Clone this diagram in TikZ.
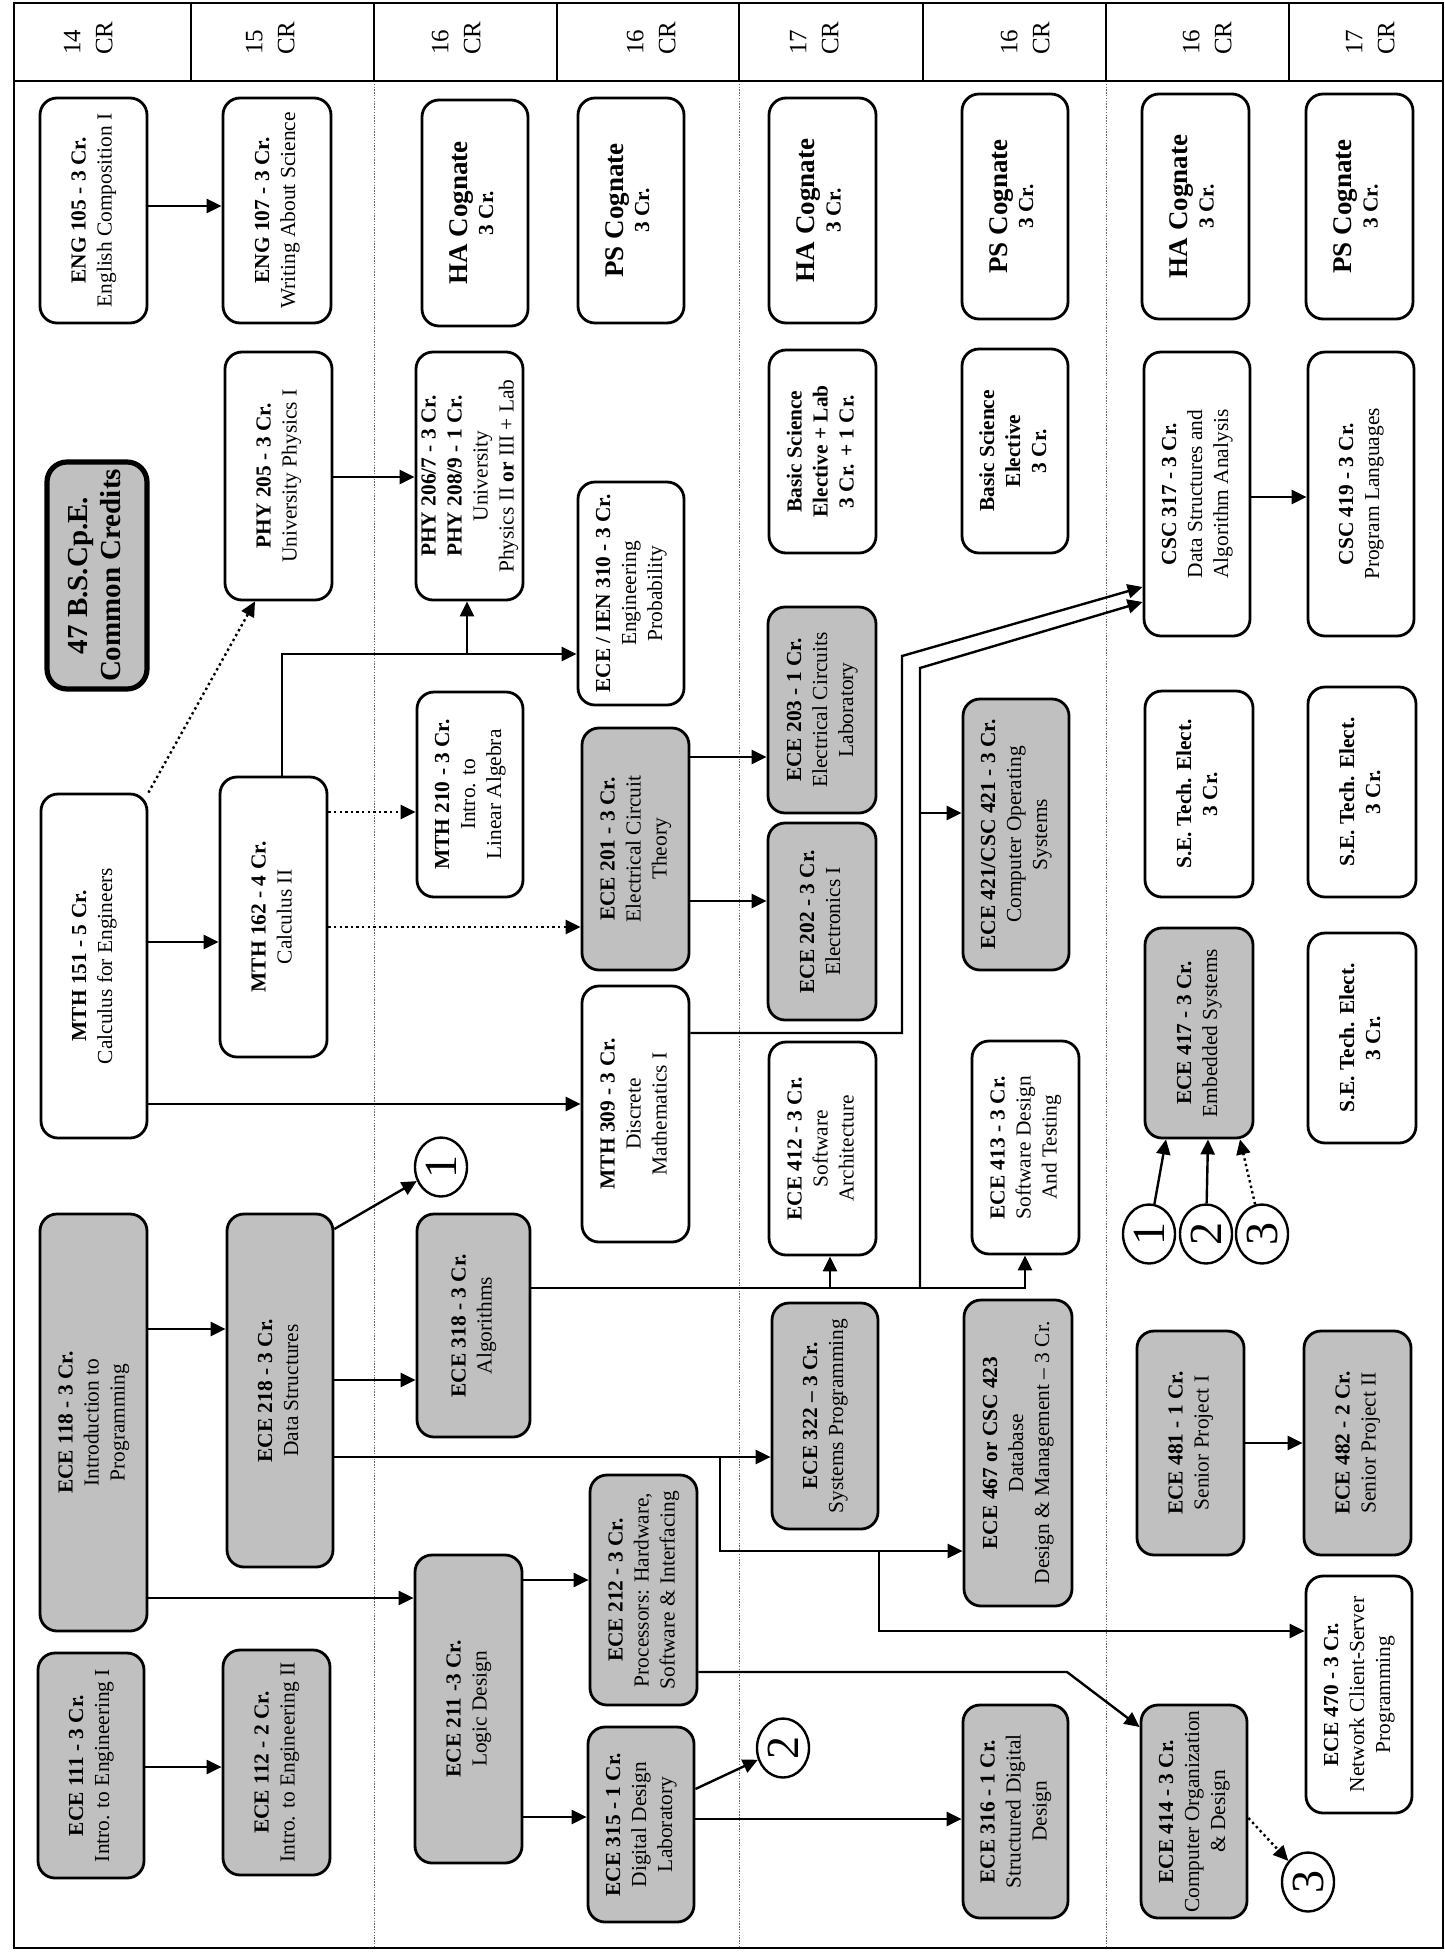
\documentclass[tikz,border=0pt]{standalone}
\usepackage{fontspec}
\setmainfont{Liberation Serif}
\usepackage{graphicx}
\usetikzlibrary{arrows.meta,shapes.geometric}
\definecolor{boxgray}{RGB}{192,192,192}
\newcommand{\rotlines}[1]{\rotatebox{90}{\begin{tabular}{@{}c@{}}#1\end{tabular}}}
\newcommand{\rotleft}[1]{\rotatebox{90}{\begin{tabular}{@{}l@{}}#1\end{tabular}}}
\newcommand{\cogfont}{\fontsize{13.5}{15}\selectfont\bfseries}
\begin{document}
\begin{tikzpicture}[x=0.5pt,y=-0.5pt,
  xyxy/.style args={#1/#2/#3/#4}{at={({(#1+#3)/2},{(#2+#4)/2})},minimum width={(#3-#1)*0.5pt},minimum height={(#4-#2)*0.5pt}},
  wbox/.style={draw,rectangle,rounded corners=8.5pt,line width=1.4pt,fill=white,inner sep=0pt,font=\fontsize{10.7}{13}\selectfont},
  gbox/.style={wbox,fill=boxgray},
  circ/.style={ellipse,draw,line width=1.2pt,fill=white,inner sep=0pt,minimum width=26pt,minimum height=29.5pt,font=\fontsize{23}{23}\selectfont},
  hdr/.style={inner sep=0pt,font=\fontsize{12.5}{16}\selectfont},
  arr/.style={line width=1.2pt,-{Triangle[length=7.5pt,width=7pt]}},
  dotarr/.style={arr,dash pattern=on 1.2pt off 1.6pt},
  frameline/.style={line width=1.2pt},
  cellline/.style={line width=0.6pt},
  yearline/.style={line width=0.5pt,black!60,dash pattern=on 0.7pt off 0.7pt}
]
\fill[white] (0,0) rectangle (1445,1960);
\useasboundingbox (0,0) rectangle (1445,1960);

% frame and header
\foreach \xx in {374,739,1106} \draw[yearline] (\xx,81) -- (\xx,1948);
\foreach \xx in {191,374,557,739,923,1106,1289} \draw[cellline] (\xx,3) -- (\xx,81);
\draw[frameline] (14,3) rectangle (1443,1948);
\draw[frameline] (14,81) -- (1443,81);

\node[hdr] (h1) at (90,38) {\rotleft{14\\CR}};
\node[hdr] (h2) at (272,38) {\rotleft{15\\CR}};
\node[hdr] (h3) at (458,38) {\rotleft{16\\CR}};
\node[hdr] (h4) at (653,38) {\rotleft{16\\CR}};
\node[hdr] (h5) at (816,38) {\rotleft{17\\CR}};
\node[hdr] (h6) at (1027,38) {\rotleft{16\\CR}};
\node[hdr] (h7) at (1209,38) {\rotleft{16\\CR}};
\node[hdr] (h8) at (1372,38) {\rotleft{17\\CR}};

% top row
\node[wbox, xyxy=40/98/147/323] (eng105) {\rotlines{\textbf{ENG 105 - 3 Cr.}\\English Composition I}};
\node[wbox, xyxy=223/98/331/323] (eng107) {\rotlines{\textbf{ENG 107 - 3 Cr.}\\Writing About Science}};
\node[wbox, xyxy=422/100/528/326] (ha1) {\rotlines{{\cogfont HA Cognate}\\\textbf{3 Cr.}}};
\node[wbox, xyxy=578/98/684/323] (ps1) {\rotlines{{\cogfont PS Cognate}\\\textbf{3 Cr.}}};
\node[wbox, xyxy=769/98/876/323] (ha2) {\rotlines{{\cogfont HA Cognate}\\\textbf{3 Cr.}}};
\node[wbox, xyxy=962/94/1068/319] (ps2) {\rotlines{{\cogfont PS Cognate}\\\textbf{3 Cr.}}};
\node[wbox, xyxy=1142/94/1249/319] (ha3) {\rotlines{{\cogfont HA Cognate}\\\textbf{3 Cr.}}};
\node[wbox, xyxy=1306/94/1413/319] (ps3) {\rotlines{{\cogfont PS Cognate}\\\textbf{3 Cr.}}};

% second band
\node[gbox, line width=2.6pt, rounded corners=10pt, xyxy=47/462/147/689, font=\fontsize{14.5}{16.5}\selectfont\bfseries] (common) {\rotlines{47 B.S.Cp.E.\\Common Credits}};
\node[wbox, xyxy=225/352/332/600] (phy205) {\rotlines{\textbf{PHY 205 - 3 Cr.}\\University Physics I}};
\node[wbox, xyxy=416/352/523/600] (phy206) {\rotlines{\textbf{PHY 206/7 - 3 Cr.}\\\textbf{PHY 208/9 - 1 Cr.}\\University\\Physics II \textbf{or} III + Lab}};
\node[wbox, xyxy=578/482/684/705] (ece310) {\rotlines{\textbf{ECE / IEN 310 - 3 Cr.}\\Engineering\\Probability}};
\node[wbox, xyxy=769/350/876/553] (bse1) {\rotlines{\textbf{Basic Science}\\\textbf{Elective + Lab}\\\textbf{3 Cr. + 1 Cr.}}};
\node[wbox, xyxy=962/349/1068/553] (bse2) {\rotlines{\textbf{Basic Science}\\\textbf{Elective}\\\textbf{3 Cr.}}};
\node[wbox, xyxy=1144/352/1250/636] (csc317) {\rotlines{\textbf{CSC 317 - 3 Cr.}\\Data Structures and\\Algorithm Analysis}};
\node[wbox, xyxy=1308/352/1414/636] (csc419) {\rotlines{\textbf{CSC 419 - 3 Cr.}\\Program Languages}};

% middle
\node[wbox, xyxy=41/794/147/1138] (mth151) {\rotlines{\textbf{MTH 151 - 5 Cr.}\\Calculus for Engineers}};
\node[wbox, xyxy=220/777/327/1057] (mth162) {\rotlines{\textbf{MTH 162 - 4 Cr.}\\Calculus II}};
\node[wbox, xyxy=417/692/523/897] (mth210) {\rotlines{\textbf{MTH 210 - 3 Cr.}\\Intro. to\\Linear Algebra}};
\node[gbox, xyxy=582/728/689/970] (ece201) {\rotlines{\textbf{ECE 201 - 3 Cr.}\\Electrical Circuit\\Theory}};
\node[gbox, xyxy=768/607/876/813] (ece203) {\rotlines{\textbf{ECE 203 - 1 Cr.}\\Electrical Circuits\\Laboratory}};
\node[gbox, xyxy=768/823/876/1020] (ece202) {\rotlines{\textbf{ECE 202 - 3 Cr.}\\Electronics I}};
\node[gbox, xyxy=963/699/1069/970] (ece421) {\rotlines{\textbf{ECE 421/CSC 421 - 3 Cr.}\\Computer Operating\\Systems}};
\node[wbox, xyxy=1145/691/1253/897] (se1) {\rotlines{\textbf{S.E. Tech. Elect.}\\\textbf{3 Cr.}}};
\node[wbox, xyxy=1308/687/1416/897] (se2) {\rotlines{\textbf{S.E. Tech. Elect.}\\\textbf{3 Cr.}}};
\node[gbox, xyxy=1145/928/1253/1138] (ece417) {\rotlines{\textbf{ECE 417 - 3 Cr.}\\Embedded Systems}};
\node[wbox, xyxy=1308/933/1416/1143] (se3) {\rotlines{\textbf{S.E. Tech. Elect.}\\\textbf{3 Cr.}}};
\node[wbox, xyxy=582/986/689/1242] (mth309) {\rotlines{\textbf{MTH 309 - 3 Cr.}\\Discrete\\Mathematics I}};
\node[wbox, xyxy=769/1042/876/1255] (ece412) {\rotlines{\textbf{ECE 412 - 3 Cr.}\\Software\\Architecture}};
\node[wbox, xyxy=972/1041/1079/1254] (ece413) {\rotlines{\textbf{ECE 413 - 3 Cr.}\\Software Design\\And Testing}};

% lower
\node[gbox, xyxy=40/1214/147/1631] (ece118) {\rotlines{\textbf{ECE 118 - 3 Cr.}\\Introduction to\\Programming}};
\node[gbox, xyxy=227/1214/333/1567] (ece218) {\rotlines{\textbf{ECE 218 - 3 Cr.}\\Data Structures}};
\node[gbox, xyxy=417/1214/530/1437] (ece318) {\rotlines{\textbf{ECE 318 - 3 Cr.}\\Algorithms}};
\node[gbox, xyxy=772/1303/878/1529] (ece322) {\rotlines{\textbf{ECE 322 – 3 Cr.}\\Systems Programming}};
\node[gbox, xyxy=964/1300/1072/1606] (ece467) {\rotlines{\textbf{ECE 467 or CSC 423}\\Database\\Design \& Management – 3 Cr.}};
\node[gbox, xyxy=1137/1331/1244/1555] (ece481) {\rotlines{\textbf{ECE 481 - 1 Cr.}\\Senior Project I}};
\node[gbox, xyxy=1304/1331/1411/1555] (ece482) {\rotlines{\textbf{ECE 482 - 2 Cr.}\\Senior Project II}};
\node[wbox, xyxy=1306/1576/1412/1813] (ece470) {\rotlines{\textbf{ECE 470 - 3 Cr.}\\Network Client-Server\\Programming}};
\node[gbox, xyxy=38/1653/144/1878] (ece111) {\rotlines{\textbf{ECE 111 - 3 Cr.}\\Intro. to Engineering I}};
\node[gbox, xyxy=223/1650/330/1875] (ece112) {\rotlines{\textbf{ECE 112 - 2 Cr.}\\Intro. to Engineering II}};
\node[gbox, xyxy=415/1555/522/1863] (ece211) {\rotlines{\textbf{ECE 211 -3 Cr.}\\Logic Design}};
\node[gbox, xyxy=590/1475/697/1705] (ece212) {\rotlines{\textbf{ECE 212 - 3 Cr.}\\Processors: Hardware,\\Software \& Interfacing}};
\node[gbox, xyxy=588/1727/694/1922] (ece315) {\rotlines{\textbf{ECE 315 - 1 Cr.}\\Digital Design\\Laboratory}};
\node[gbox, xyxy=963/1705/1068/1918] (ece316) {\rotlines{\textbf{ECE 316 - 1 Cr.}\\Structured Digital\\Design}};
\node[gbox, xyxy=1141/1705/1247/1918] (ece414) {\rotlines{\textbf{ECE 414 - 3 Cr.}\\Computer Organization\\\& Design}};

% circled references
\node[circ] (c1a) at (441,1167) {\rotatebox{90}{1}};
\node[circ] (c2a) at (783,1748) {\rotatebox{90}{2}};
\node[circ] (c3a) at (1308,1882) {\rotatebox{90}{3}};
\node[circ] (c1b) at (1149,1234) {\rotatebox{90}{1}};
\node[circ] (c2b) at (1206,1234) {\rotatebox{90}{2}};
\node[circ] (c3b) at (1262,1234) {\rotatebox{90}{3}};

% junctions
\coordinate (j1) at (467,654);
\coordinate (j2) at (830,1288);
\coordinate (j3) at (920,1288);
\coordinate (j4) at (920,813);
\coordinate (j5) at (720,1457);
\coordinate (j6) at (879,1551);
\coordinate (k1) at (902,656);
\coordinate (k2) at (920,668);
\coordinate (k3) at (1067,1672);

% connectors
\draw[arr] (eng105.east |- 0,206) -- (eng107.west |- 0,206);
\draw[arr] (phy205.east |- 0,477) -- (phy206.west |- 0,477);
\draw[dotarr] (mth151.north east) -- (phy205.south -| 255,0);
\draw[arr] (mth151.east |- 0,942) -- (mth162.west |- 0,942);
\draw[arr] (mth162.north -| 282,0) |- (ece310.west |- 0,654);
\draw[arr] (j1) -- (phy206.south -| j1);
\draw[dotarr] (mth162.east |- 0,812) -- (mth210.west |- 0,812);
\draw[dotarr] (mth162.east |- 0,927) -- (ece201.west |- 0,927);
\draw[arr] (mth151.east |- 0,1104) -- (mth309.west |- 0,1104);
\draw[arr] (ece201.east |- 0,757) -- (ece203.west |- 0,757);
\draw[arr] (ece201.east |- 0,901) -- (ece202.west |- 0,901);
\draw[arr] (mth309.east |- 0,1033) -| (k1) -- (csc317.west |- 0,587);
\draw[arr] (ece318.east |- 0,1288) -| (ece413.south -| 1025,0);
\draw[arr] (j2) -- (ece412.south -| j2);
\draw[arr] (j3) -- (k2) -- (csc317.west |- 0,602);
\draw[arr] (j4) -- (ece421.west |- j4);
\draw[arr] (csc317.east |- 0,497) -- (csc419.west |- 0,497);
\draw[arr] (ece118.east |- 0,1329) -- (ece218.west |- 0,1329);
\draw[arr] (ece218.east |- 0,1229) -- (c1a);
\draw[arr] (ece218.east |- 0,1380) -- (ece318.west |- 0,1380);
\draw[arr] (ece218.east |- 0,1457) -- (ece322.west |- 0,1457);
\draw[arr] (j5) |- (ece467.west |- j6);
\draw[arr] (j6) |- (ece470.west |- 0,1631);
\draw[arr] (ece118.east |- 0,1598) -- (ece211.west |- 0,1598);
\draw[arr] (ece111.east |- 0,1767) -- (ece112.west |- 0,1767);
\draw[arr] (ece211.east |- 0,1580) -- (ece212.west |- 0,1580);
\draw[arr] (ece211.east |- 0,1817) -- (ece315.west |- 0,1817);
\draw[arr] (ece315.east |- 0,1789) -- (c2a);
\draw[arr] (ece315.east |- 0,1819) -- (ece316.west |- 0,1819);
\draw[arr] (ece212.east |- k3) -- (k3) -- (ece414.west |- 0,1727);
\draw[dotarr] (ece414.east |- 0,1818) -- (c3a);
\draw[arr] (c1b) -- (ece417.south -| 1166,0);
\draw[arr] (c2b) -- (ece417.south -| 1208,0);
\draw[dotarr] (c3b) -- (ece417.south -| 1240,0);
\draw[arr] (ece481.east |- 0,1443) -- (ece482.west |- 0,1443);
\end{tikzpicture}
\end{document}
